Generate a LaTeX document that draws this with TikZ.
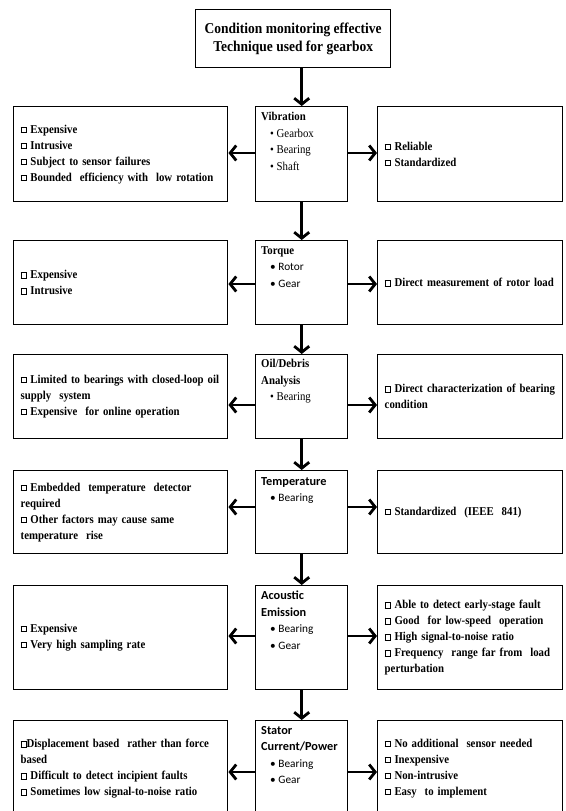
\documentclass[tikz,border=0pt]{standalone}
\usepackage{fontspec}
\setmainfont{Liberation Serif}[FakeStretch=0.9]
\newfontfamily\carl{Carlito}
\usetikzlibrary{arrows.meta,calc}
\newcommand\sqb{\raisebox{0.2ex}{\fboxsep=0pt\fboxrule=0.5pt\fbox{\rule{0pt}{4.8pt}\rule{4.8pt}{0pt}}}}
\newcommand\itm[1]{\hspace*{9pt}\textbullet\ #1}
\newcommand\citm[1]{\hspace*{9pt}{\carl\fontsize{11.3}{16.5}\selectfont\textbullet\ #1}}
\newcommand\ctit[1]{{\carl\bfseries\fontsize{12.3}{17}\selectfont #1}}
\begin{document}
\begin{tikzpicture}[x=1pt,y=-1pt,
  frame/.style={draw, line width=1.4pt, inner sep=0pt},
  lbox/.style={frame, anchor=north west, minimum width=214pt, text width=200pt,
     align=left, font=\bfseries\fontsize{12}{16}\selectfont},
  rbox/.style={frame, anchor=north west, minimum width=185pt, text width=171pt,
     align=left, font=\bfseries\fontsize{12}{16}\selectfont},
  cbox/.style={frame, anchor=north west, minimum width=92pt},
  ctext/.style={anchor=north west, inner sep=0pt, align=left, font=\fontsize{12}{16.5}\selectfont},
  arr/.style={line width=2.8pt, -{Straight Barb[length=6pt,width=15pt]}}]
\useasboundingbox (0,0) rectangle (565,811);
\fill[white] (0,0) rectangle (565,811);

\node[frame, anchor=north west, minimum width=195pt, minimum height=58pt, align=center,
  font=\bfseries\fontsize{15}{18.5}\selectfont] (top) at (195,9)
  {Condition monitoring effective\\Technique used for gearbox};

% Row 1
\node[cbox, minimum height=95pt] (c1) at (255,106) {};
\node[ctext] (t1) at ($(c1.north west)+(6,6)$)
  {\textbf{Vibration}\\ \itm{Gearbox}\\ \itm{Bearing}\\ \itm{Shaft}};
\node[lbox, minimum height=95pt] (l1) at (13,106)
  {\sqb\ Expensive\\ \sqb\ Intrusive\\ \sqb\ Subject to sensor failures\\ \sqb\ Bounded \ efficiency with \ low rotation};
\node[rbox, minimum height=95pt] (r1) at (377,106)
  {\sqb\ Reliable\\ \sqb\ Standardized};

% Row 2
\node[cbox, minimum height=84pt] (c2) at (255,240) {};
\node[ctext] (t2) at ($(c2.north west)+(6,6)$)
  {\textbf{Torque}\\ \citm{Rotor}\\ \citm{Gear}};
\node[lbox, minimum height=84pt] (l2) at (13,240)
  {\sqb\ Expensive\\ \sqb\ Intrusive};
\node[rbox, minimum height=84pt] (r2) at (377,240)
  {\sqb\ Direct measurement of rotor load};

% Row 3
\node[cbox, minimum height=84pt] (c3) at (255,354) {};
\node[ctext] (t3) at ($(c3.north west)+(6,5)$)
  {\textbf{Oil/Debris}\\ \textbf{Analysis}\\ \itm{Bearing}};
\node[lbox, minimum height=84pt] (l3) at (13,354)
  {\sqb\ Limited to bearings with closed-loop oil\\ supply \ system\\ \sqb\ Expensive \ for online operation};
\node[rbox, minimum height=84pt] (r3) at (377,354)
  {\sqb\ Direct characterization of bearing\\ condition};

% Row 4
\node[cbox, minimum height=83pt] (c4) at (255,470) {};
\node[ctext] (t4) at ($(c4.north west)+(6,7)$)
  {\ctit{Temperature}\\ \citm{Bearing}};
\node[lbox, minimum height=83pt] (l4) at (13,470)
  {\sqb\ Embedded \ temperature \ detector\\ required\\ \sqb\ Other factors may cause same\\ temperature \ rise};
\node[rbox, minimum height=83pt] (r4) at (377,470)
  {\sqb\ Standardized \ (IEEE \ 841)};

% Row 5
\node[cbox, minimum height=104pt] (c5) at (255,585) {};
\node[ctext] (t5) at ($(c5.north west)+(6,6)$)
  {\ctit{Acoustic}\\ \ctit{Emission}\\ \citm{Bearing}\\ \citm{Gear}};
\node[lbox, minimum height=104pt] (l5) at (13,585)
  {\sqb\ Expensive\\ \sqb\ Very high sampling rate};
\node[rbox, minimum height=104pt] (r5) at (377,585)
  {\sqb\ Able to detect early-stage fault\\ \sqb\ Good \ for low-speed \ operation\\ \sqb\ High signal-to-noise ratio\\ \sqb\ Frequency \ range far from \ load\\ perturbation};

% Row 6
\node[cbox, minimum height=96pt] (c6) at (255,720) {};
\node[ctext] (t6) at ($(c6.north west)+(6,6)$)
  {\ctit{Stator}\\ \ctit{Current/Power}\\ \citm{Bearing}\\ \citm{Gear}};
\node[lbox, minimum height=96pt] (l6) at (13,720)
  {\sqb Displacement based \ rather than force\\ based\\ \sqb\ Difficult to detect incipient faults\\ \sqb\ Sometimes low signal-to-noise ratio};
\node[rbox, minimum height=96pt] (r6) at (377,720)
  {\sqb\ No additional \ sensor needed\\ \sqb\ Inexpensive\\ \sqb\ Non-intrusive\\ \sqb\ Easy \ to implement};

% arrow heights
\coordinate (y1) at (0,153);
\coordinate (y2) at (0,284);
\coordinate (y3) at (0,405);
\coordinate (y4) at (0,507);
\coordinate (y5) at (0,636);
\coordinate (y6) at (0,772);

\foreach \i in {1,...,6}{
  \draw[arr] (c\i.west |- y\i) -- (l\i.east |- y\i);
  \draw[arr] (c\i.east |- y\i) -- (r\i.west |- y\i);
}

\draw[arr] (top.south -| c1.north) -- (c1.north);
\draw[arr] (c1.south) -- (c2.north);
\draw[arr] (c2.south) -- (c3.north);
\draw[arr] (c3.south) -- (c4.north);
\draw[arr] (c4.south) -- (c5.north);
\draw[arr] (c5.south) -- (c6.north);
\end{tikzpicture}
\end{document}
